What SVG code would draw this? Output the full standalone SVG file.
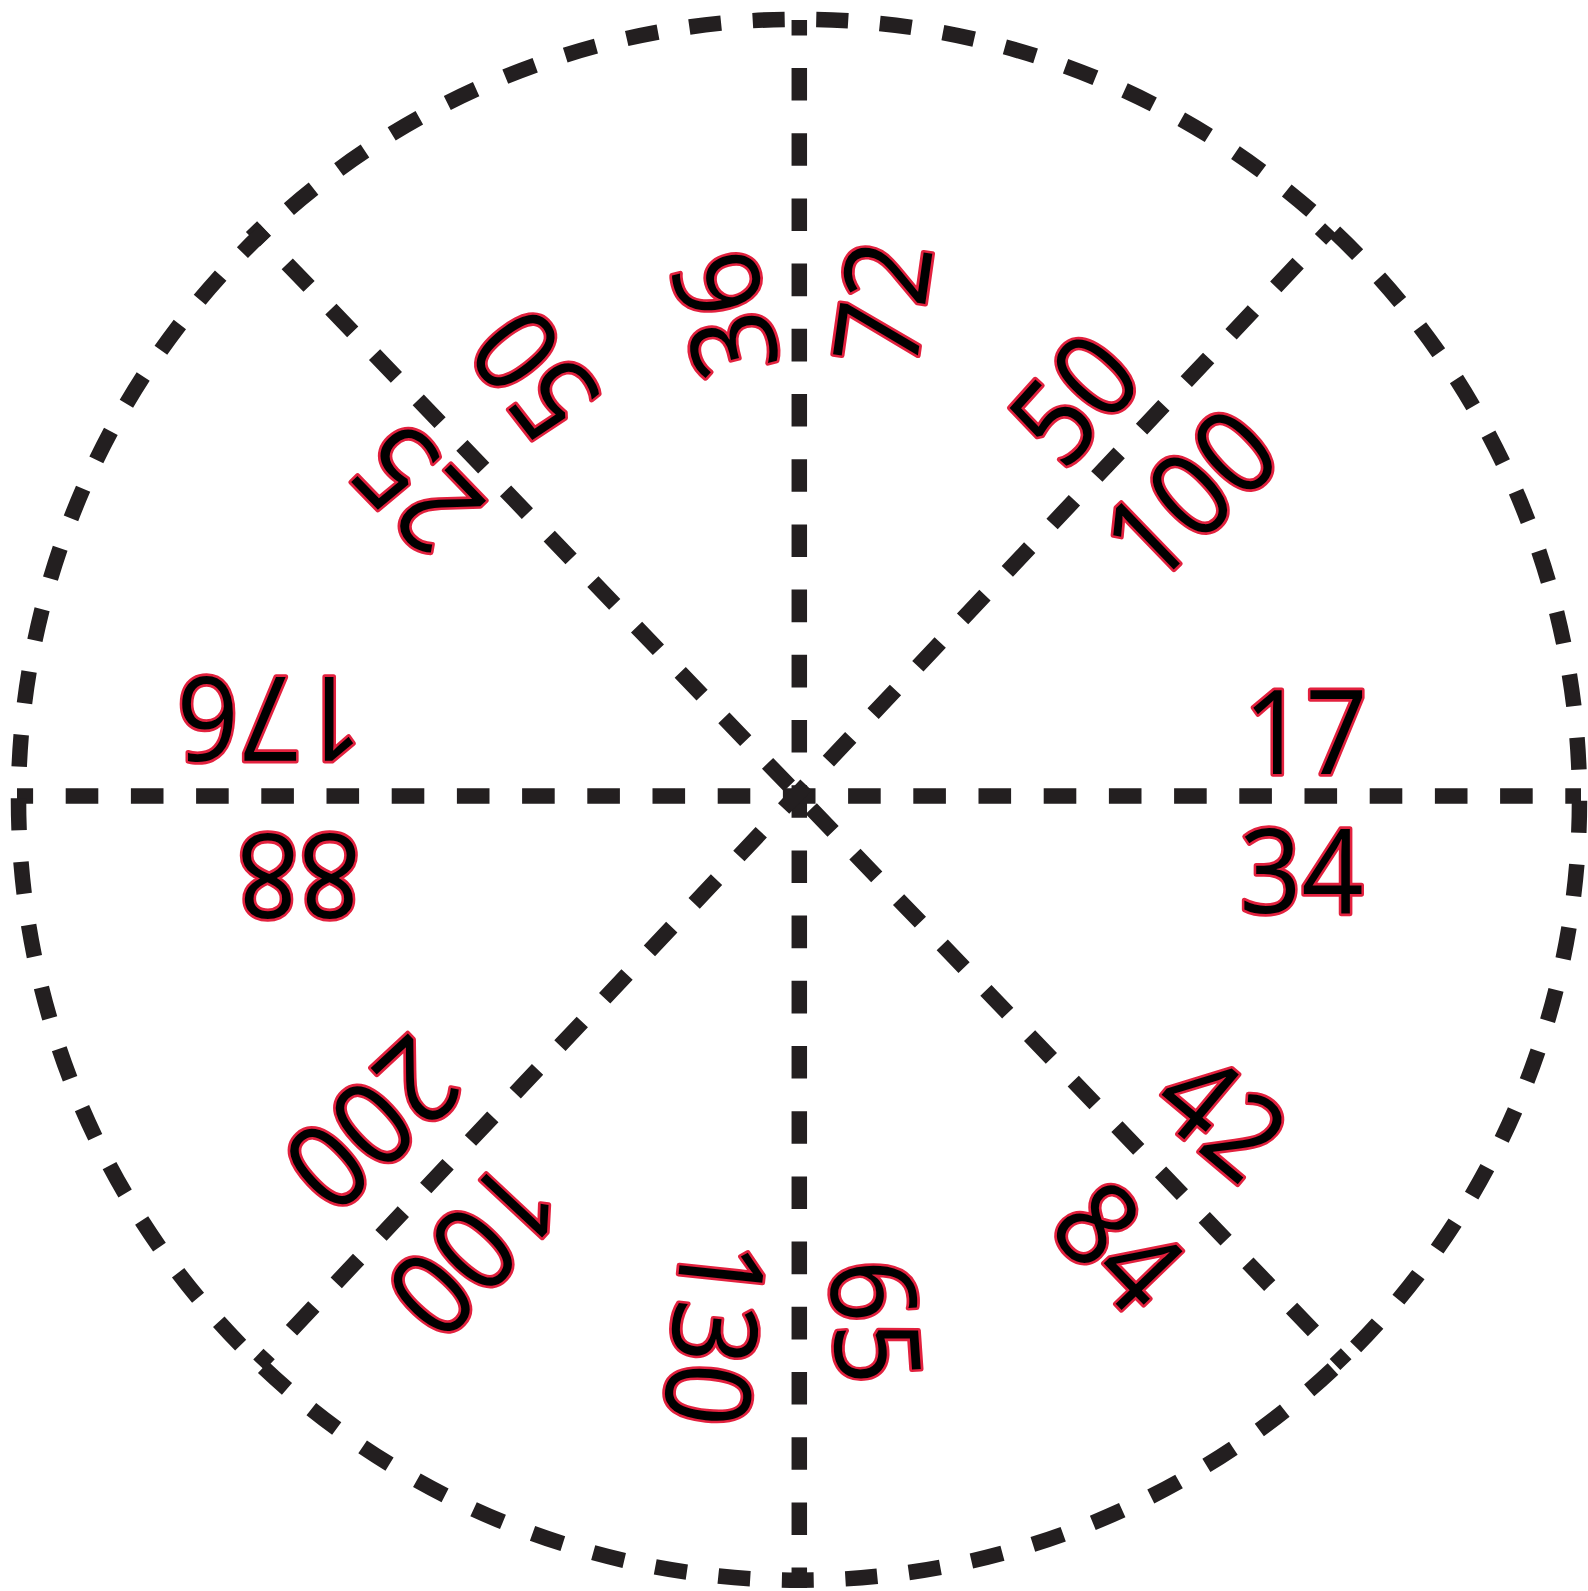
<svg xmlns="http://www.w3.org/2000/svg" width="1588" height="1591" viewBox="0 0 1588 1591">
<style>
.ring{fill:none;stroke:#231f20;stroke-width:15.5;stroke-dasharray:32 31.689;stroke-dashoffset:62.689}
.ray{fill:none;stroke:#231f20;stroke-width:15.5}
.num{font-family:"Open Sans",sans-serif;font-size:118px;fill:#000;stroke:#e2213e;stroke-width:5.5;paint-order:stroke;text-anchor:middle;stroke-linejoin:round}
</style>
<rect width="1588" height="1591" fill="#fff"/>
<g id="connectors">
<path class="ray" d="M799.3 20V1588" style="stroke-dasharray:32.6 32.6;stroke-dashoffset:17.2"/>
<path class="ray" d="M17 796H1581" style="stroke-dasharray:32.6 32.6;stroke-dashoffset:16.5"/>
<path class="ray" d="M251.5 226.6L1345.9 1364.7" style="stroke-dasharray:31.5 31.5;stroke-dashoffset:11.45"/>
<path class="ray" d="M258.9 1364.8L1330.7 228.6" style="stroke-dasharray:32.6 32.6;stroke-dashoffset:17.7"/>
<circle class="ring" cx="799" cy="799.75" r="780.5"/>
</g>
<g id="n17" transform="translate(1305.5,731.5)"><text class="num" y="42" transform="scale(0.92,1)">17</text></g>
<g id="n34" transform="translate(1301.5,871)"><text class="num" y="42" transform="scale(0.92,1)">34</text></g>
<g id="n176" transform="translate(270,719) rotate(180)"><text class="num" y="42" transform="scale(0.92,1)">176</text></g>
<g id="n88" transform="translate(298.7,876) rotate(180)"><text class="num" y="42" transform="scale(0.92,1)">88</text></g>
<g id="n36" transform="translate(725.5,314.6) rotate(-104)"><text class="num" y="42" transform="scale(0.92,1)">36</text></g>
<g id="n72" transform="translate(882.8,303.4) rotate(-82)"><text class="num" y="42" transform="scale(0.92,1)">72</text></g>
<g id="n50a" transform="translate(1074.6,399) rotate(-48)"><text class="num" y="42" transform="scale(0.92,1)">50</text></g>
<g id="n100a" transform="translate(1190.2,495) rotate(-44)"><text class="num" y="42" transform="scale(0.92,1)">100</text></g>
<g id="n25" transform="translate(416.5,489) rotate(-134)"><text class="num" y="42" transform="scale(0.92,1)">25</text></g>
<g id="n50b" transform="translate(534.8,374.5) rotate(-128)"><text class="num" y="42" transform="scale(0.92,1)">50</text></g>
<g id="n200" transform="translate(372.4,1124) rotate(137)"><text class="num" y="42" transform="scale(0.92,1)">200</text></g>
<g id="n100b" transform="translate(473.8,1249) rotate(133)"><text class="num" y="42" transform="scale(0.92,1)">100</text></g>
<g id="n130" transform="translate(714.5,1333) rotate(96)"><text class="num" y="42" transform="scale(0.92,1)">130</text></g>
<g id="n65" transform="translate(875.2,1321.6) rotate(86)"><text class="num" y="42" transform="scale(0.92,1)">65</text></g>
<g id="n42" transform="translate(1221.7,1116) rotate(40)"><text class="num" y="42" transform="scale(0.92,1)">42</text></g>
<g id="n84" transform="translate(1118.2,1246.1) rotate(46)"><text class="num" y="42" transform="scale(0.92,1)">84</text></g>
</svg>
